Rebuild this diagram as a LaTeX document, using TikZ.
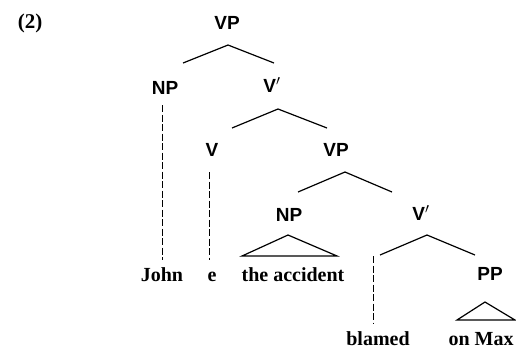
\documentclass[tikz,border=0pt]{standalone}
\usepackage{fontspec}
\newfontfamily\catfont{Liberation Sans}
\newfontfamily\wordfont{Liberation Serif}
\begin{document}
\begin{tikzpicture}[x=1pt,y=-1pt,
  cat/.style={font=\catfont\bfseries\fontsize{19}{21}\selectfont, inner sep=0pt, anchor=base},
  word/.style={font=\wordfont\bfseries\fontsize{20}{22}\selectfont, inner sep=0pt, anchor=base},
  branch/.style={line width=1.2pt},
  trace/.style={line width=0.8pt, dash pattern=on 7pt off 2.5pt},
  tri/.style={line width=1.2pt, line join=miter}]
\useasboundingbox (0,0) rectangle (516,349);
% example number
\node[word] (num) at (30,28) {\fontsize{21}{23}\selectfont(2)};
% categories
\node[cat] (vp1) at (227,29) {VP};
\node[cat] (np1) at (165,94) {NP};
\node[cat] (vb1) at (272,92) {V$'$};
\node[cat] (v) at (212,156) {V};
\node[cat] (vp2) at (336,156) {VP};
\node[cat] (np2) at (289,221) {NP};
\node[cat] (vb2) at (421,220) {V$'$};
\node[cat] (pp) at (490,280) {PP};
% words
\node[word] (john) at (162,281) {John};
\node[word] (e) at (212,281) {e};
\node[word] (acc) at (293,281) {the accident};
\node[word] (blamed) at (378,345) {blamed};
\node[word] (onmax) at (481,345) {on Max};
% branch points
\coordinate (a1) at (228,45);
\coordinate (l1) at (183,63);
\coordinate (r1) at (274,63);
\coordinate (a2) at (278,109);
\coordinate (l2) at (232,128);
\coordinate (r2) at (327,128);
\coordinate (a3) at (345,172);
\coordinate (l3) at (298,192);
\coordinate (r3) at (392,192);
\coordinate (a4) at (427,235);
\coordinate (l4) at (380,255);
\coordinate (r4) at (475,255);
\draw[branch] (l1) -- (a1) -- (r1);
\draw[branch] (l2) -- (a2) -- (r2);
\draw[branch] (l3) -- (a3) -- (r3);
\draw[branch] (l4) -- (a4) -- (r4);
% triangles
\coordinate (t1a) at (288,235);
\coordinate (t1l) at (242,256);
\coordinate (t1r) at (337,256);
\draw[tri] (t1a) -- (t1l) -- (t1r) -- cycle;
\coordinate (t2a) at (485,302);
\coordinate (t2l) at (457,320);
\coordinate (t2r) at (515,320);
\draw[tri] (t2a) -- (t2l) -- (t2r) -- cycle;
% traces (dashed lines)
\coordinate (d1t) at (162,105);
\coordinate (d1b) at (162,260);
\coordinate (d2t) at (209,172);
\coordinate (d2b) at (209,260);
\coordinate (d3t) at (373,256);
\coordinate (d3b) at (373,324);
\draw[trace] (d1t) -- (d1b);
\draw[trace] (d2t) -- (d2b);
\draw[trace] (d3t) -- (d3b);
\end{tikzpicture}
\end{document}
